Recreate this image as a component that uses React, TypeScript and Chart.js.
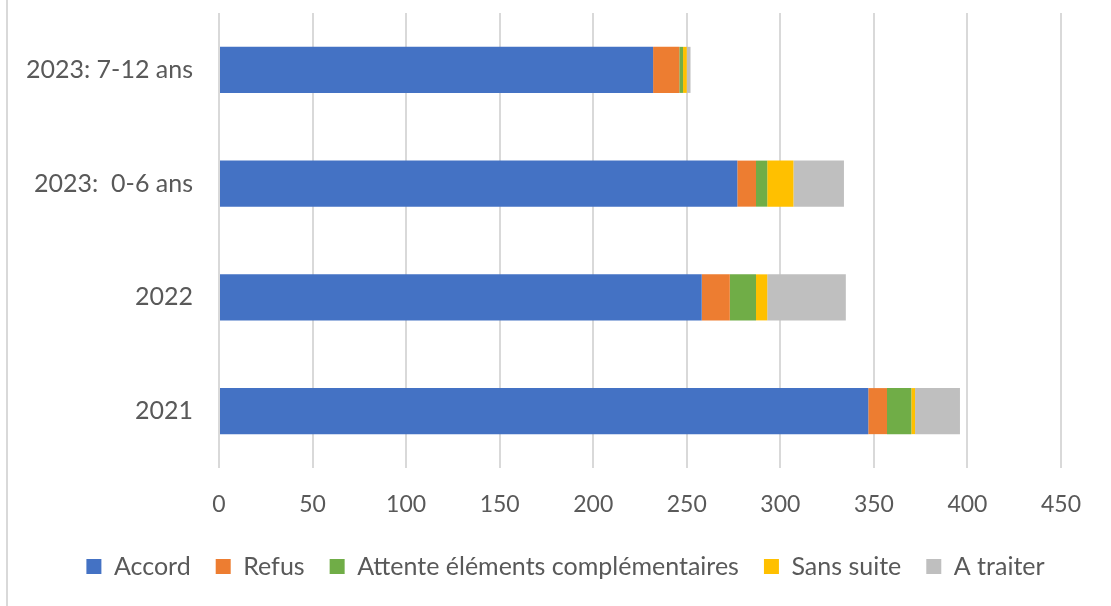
import React, { useEffect, useRef } from "react";
import { Chart, registerables } from "chart.js";

Chart.register(...registerables);

// Categories, top to bottom
const categories = ["2023: 7-12 ans", "2023:  0-6 ans", "2022", "2021"];

// Series values per category
const accord = [232, 277, 258, 347];
const refus = [14, 10, 15, 10];
const attente = [2, 6, 14, 13];
const sansSuite = [2, 14, 6, 2];
const aTraiter = [2, 27, 42, 24];

const seriesNames = ["Accord", "Refus", "Attente éléments complémentaires", "Sans suite", "A traiter"];
const seriesColors = ["#4472C4", "#ED7D31", "#70AD47", "#FFC000", "#BFBFBF"];

const xTicks = { min: 0, max: 450, step: 50 };

const TEXT = "#595959";
const GRID = "#D9D9D9";
const FONT = "Lato, 'Open Sans', sans-serif";

// Thin frame line along the left edge of the chart area
const frameLine = {
  id: "frameLine",
  beforeDraw(chart: any) {
    const { ctx, height } = chart;
    ctx.save();
    ctx.strokeStyle = GRID;
    ctx.lineWidth = 2;
    ctx.beginPath();
    ctx.moveTo(7, 0);
    ctx.lineTo(7, height);
    ctx.stroke();
    ctx.restore();
  },
};

// Nudge the bottom legend so it is centred under the whole frame
const legendShift = {
  id: "legendShift",
  afterLayout(chart: any) {
    if (chart.legend) {
      chart.legend.left += 35;
      chart.legend.right += 35;
    }
  },
};

export default function App() {
  const canvasRef = useRef<HTMLCanvasElement | null>(null);

  useEffect(() => {
    document.body.style.margin = "0";
    const canvas = canvasRef.current;
    if (!canvas) return;
    const values = [accord, refus, attente, sansSuite, aTraiter];
    const chart = new Chart(canvas, {
      type: "bar",
      data: {
        labels: categories,
        datasets: seriesNames.map((name, i) => ({
          label: name,
          data: values[i],
          backgroundColor: seriesColors[i],
          borderWidth: 0,
          categoryPercentage: 0.5,
          barPercentage: 0.81,
        })),
      },
      options: {
        indexAxis: "y",
        animation: false,
        responsive: false,
        maintainAspectRatio: false,
        layout: { padding: { top: 13, right: 50, left: 0, bottom: 17 } },
        plugins: {
          tooltip: { enabled: false },
          legend: {
            position: "bottom",
            labels: {
              color: TEXT,
              font: { family: FONT, size: 25 },
              boxWidth: 15,
              boxHeight: 15,
              padding: 25,
            },
          },
        },
        scales: {
          x: {
            stacked: true,
            min: xTicks.min,
            max: xTicks.max,
            ticks: {
              stepSize: xTicks.step,
              color: TEXT,
              font: { family: FONT, size: 23 },
              padding: 23,
            },
            grid: { color: GRID, lineWidth: 2, drawTicks: false },
            border: { display: false },
            afterFit(scale: any) {
              scale.height = 61;
            },
          },
          y: {
            stacked: true,
            ticks: {
              color: TEXT,
              font: { family: FONT, size: 25 },
              padding: 26,
            },
            grid: { display: false, drawTicks: false },
            border: { display: false },
            afterFit(scale: any) {
              scale.width = 219;
              scale.paddingTop = 0;
              scale.paddingBottom = 0;
            },
          },
        },
      },
      plugins: [frameLine, legendShift],
    });
    return () => chart.destroy();
  }, []);

  return (
    <div style={{ width: 1111, height: 606, background: "#ffffff" }}>
      <canvas ref={canvasRef} width={1111} height={606} />
    </div>
  );
}
